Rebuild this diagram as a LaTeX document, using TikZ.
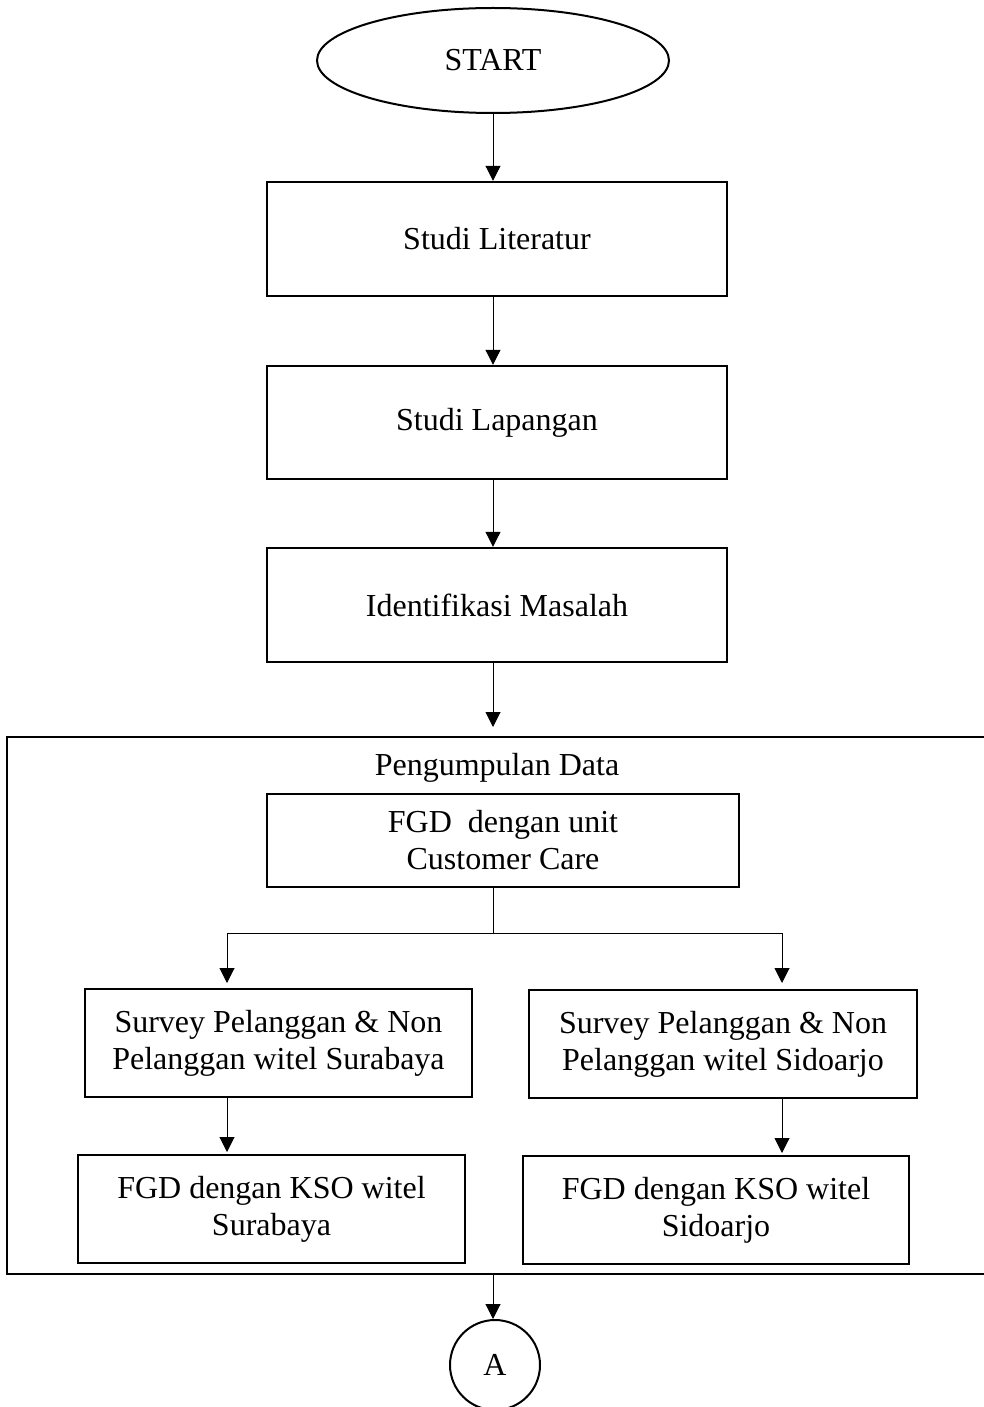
\documentclass[tikz,border=0pt]{standalone}
\usepackage{fontspec}
\setmainfont{Liberation Serif}
\usetikzlibrary{arrows.meta,shapes.geometric}

\tikzset{
  stepbox/.style={draw, line width=1.2pt, rectangle, align=center,
    inner sep=2pt, font=\fontsize{16}{18.5}\selectfont},
  terminal/.style={draw, line width=1pt, ellipse, inner sep=0pt,
    font=\fontsize{16}{18.5}\selectfont},
  connector/.style={draw, line width=1pt, circle, inner sep=0pt,
    font=\fontsize{16}{18.5}\selectfont},
  group/.style={draw, line width=1.2pt, rectangle, inner sep=0pt},
  flow/.style={line width=0.5pt, -{Triangle[width=7.5pt,length=7.5pt]}},
  plain/.style={line width=0.5pt},
}

\begin{document}
\begin{tikzpicture}[x=0.5pt,y=-0.5pt]
  \useasboundingbox (0,0) rectangle (984,1407);
  \fill[white] (0,0) rectangle (984,1407);
  \clip (0,0) rectangle (984,1407);

  % data-collection group (open on the right edge of the page)
  \node[group, minimum width=496.5pt, minimum height=268.5pt] (grp) at (503.5,1005.5) {};
  \node[font=\fontsize{16}{18.5}\selectfont] (grptitle) at (497,768) {Pengumpulan Data};

  % main column
  \node[terminal, minimum width=176pt, minimum height=52.5pt] (start) at (493,60.5) {START};
  \node[stepbox, minimum width=230pt, minimum height=57pt] (lit) at (497,239) {Studi Literatur};
  \node[stepbox, minimum width=230pt, minimum height=56.5pt] (lap) at (497,422.5) {Studi Lapangan};
  \node[stepbox, minimum width=230pt, minimum height=57pt] (ide) at (497,605) {Identifikasi Masalah};

  % inside the group
  \node[stepbox, minimum width=236pt, minimum height=46.5pt] (fgd) at (503,840.5) {FGD~~dengan unit\\Customer Care};
  \node[stepbox, minimum width=193.5pt, minimum height=54pt] (sl) at (278.5,1043) {Survey Pelanggan \& Non\\Pelanggan witel Surabaya};
  \node[stepbox, minimum width=194pt, minimum height=54pt] (sr) at (723,1044) {Survey Pelanggan \& Non\\Pelanggan witel Sidoarjo};
  \node[stepbox, minimum width=193.5pt, minimum height=54pt] (fl) at (271.5,1209) {FGD dengan KSO witel\\Surabaya};
  \node[stepbox, minimum width=193pt, minimum height=54pt] (fr) at (716,1210) {FGD dengan KSO witel\\Sidoarjo};

  % off-page connector
  \node[connector, minimum size=45pt] (conA) at (495,1365) {A};

  % routing points
  \coordinate (grpin) at (493,727);
  \coordinate (split) at (493,933);
  \coordinate (splitL) at (227,933);
  \coordinate (splitR) at (782,933);
  \coordinate (inL) at (227,983);
  \coordinate (inR) at (782,983);
  \coordinate (inFL) at (227,1152);
  \coordinate (inFR) at (782,1153);

  % connectors
  \draw[flow] (start) -- (start |- lit.north);
  \draw[flow] (start |- lit.south) -- (start |- lap.north);
  \draw[flow] (start |- lap.south) -- (start |- ide.north);
  \draw[flow] (start |- ide.south) -- (grpin);
  \draw[plain] (split |- fgd.south) -- (split);
  \draw[plain] (splitL) -- (splitR);
  \draw[flow] (splitL) -- (inL);
  \draw[flow] (splitR) -- (inR);
  \draw[flow] (inL |- sl.south) -- (inFL);
  \draw[flow] (inR |- sr.south) -- (inFR);
  \draw[flow] (split |- grp.south) -- (conA.north -| split);
\end{tikzpicture}
\end{document}
